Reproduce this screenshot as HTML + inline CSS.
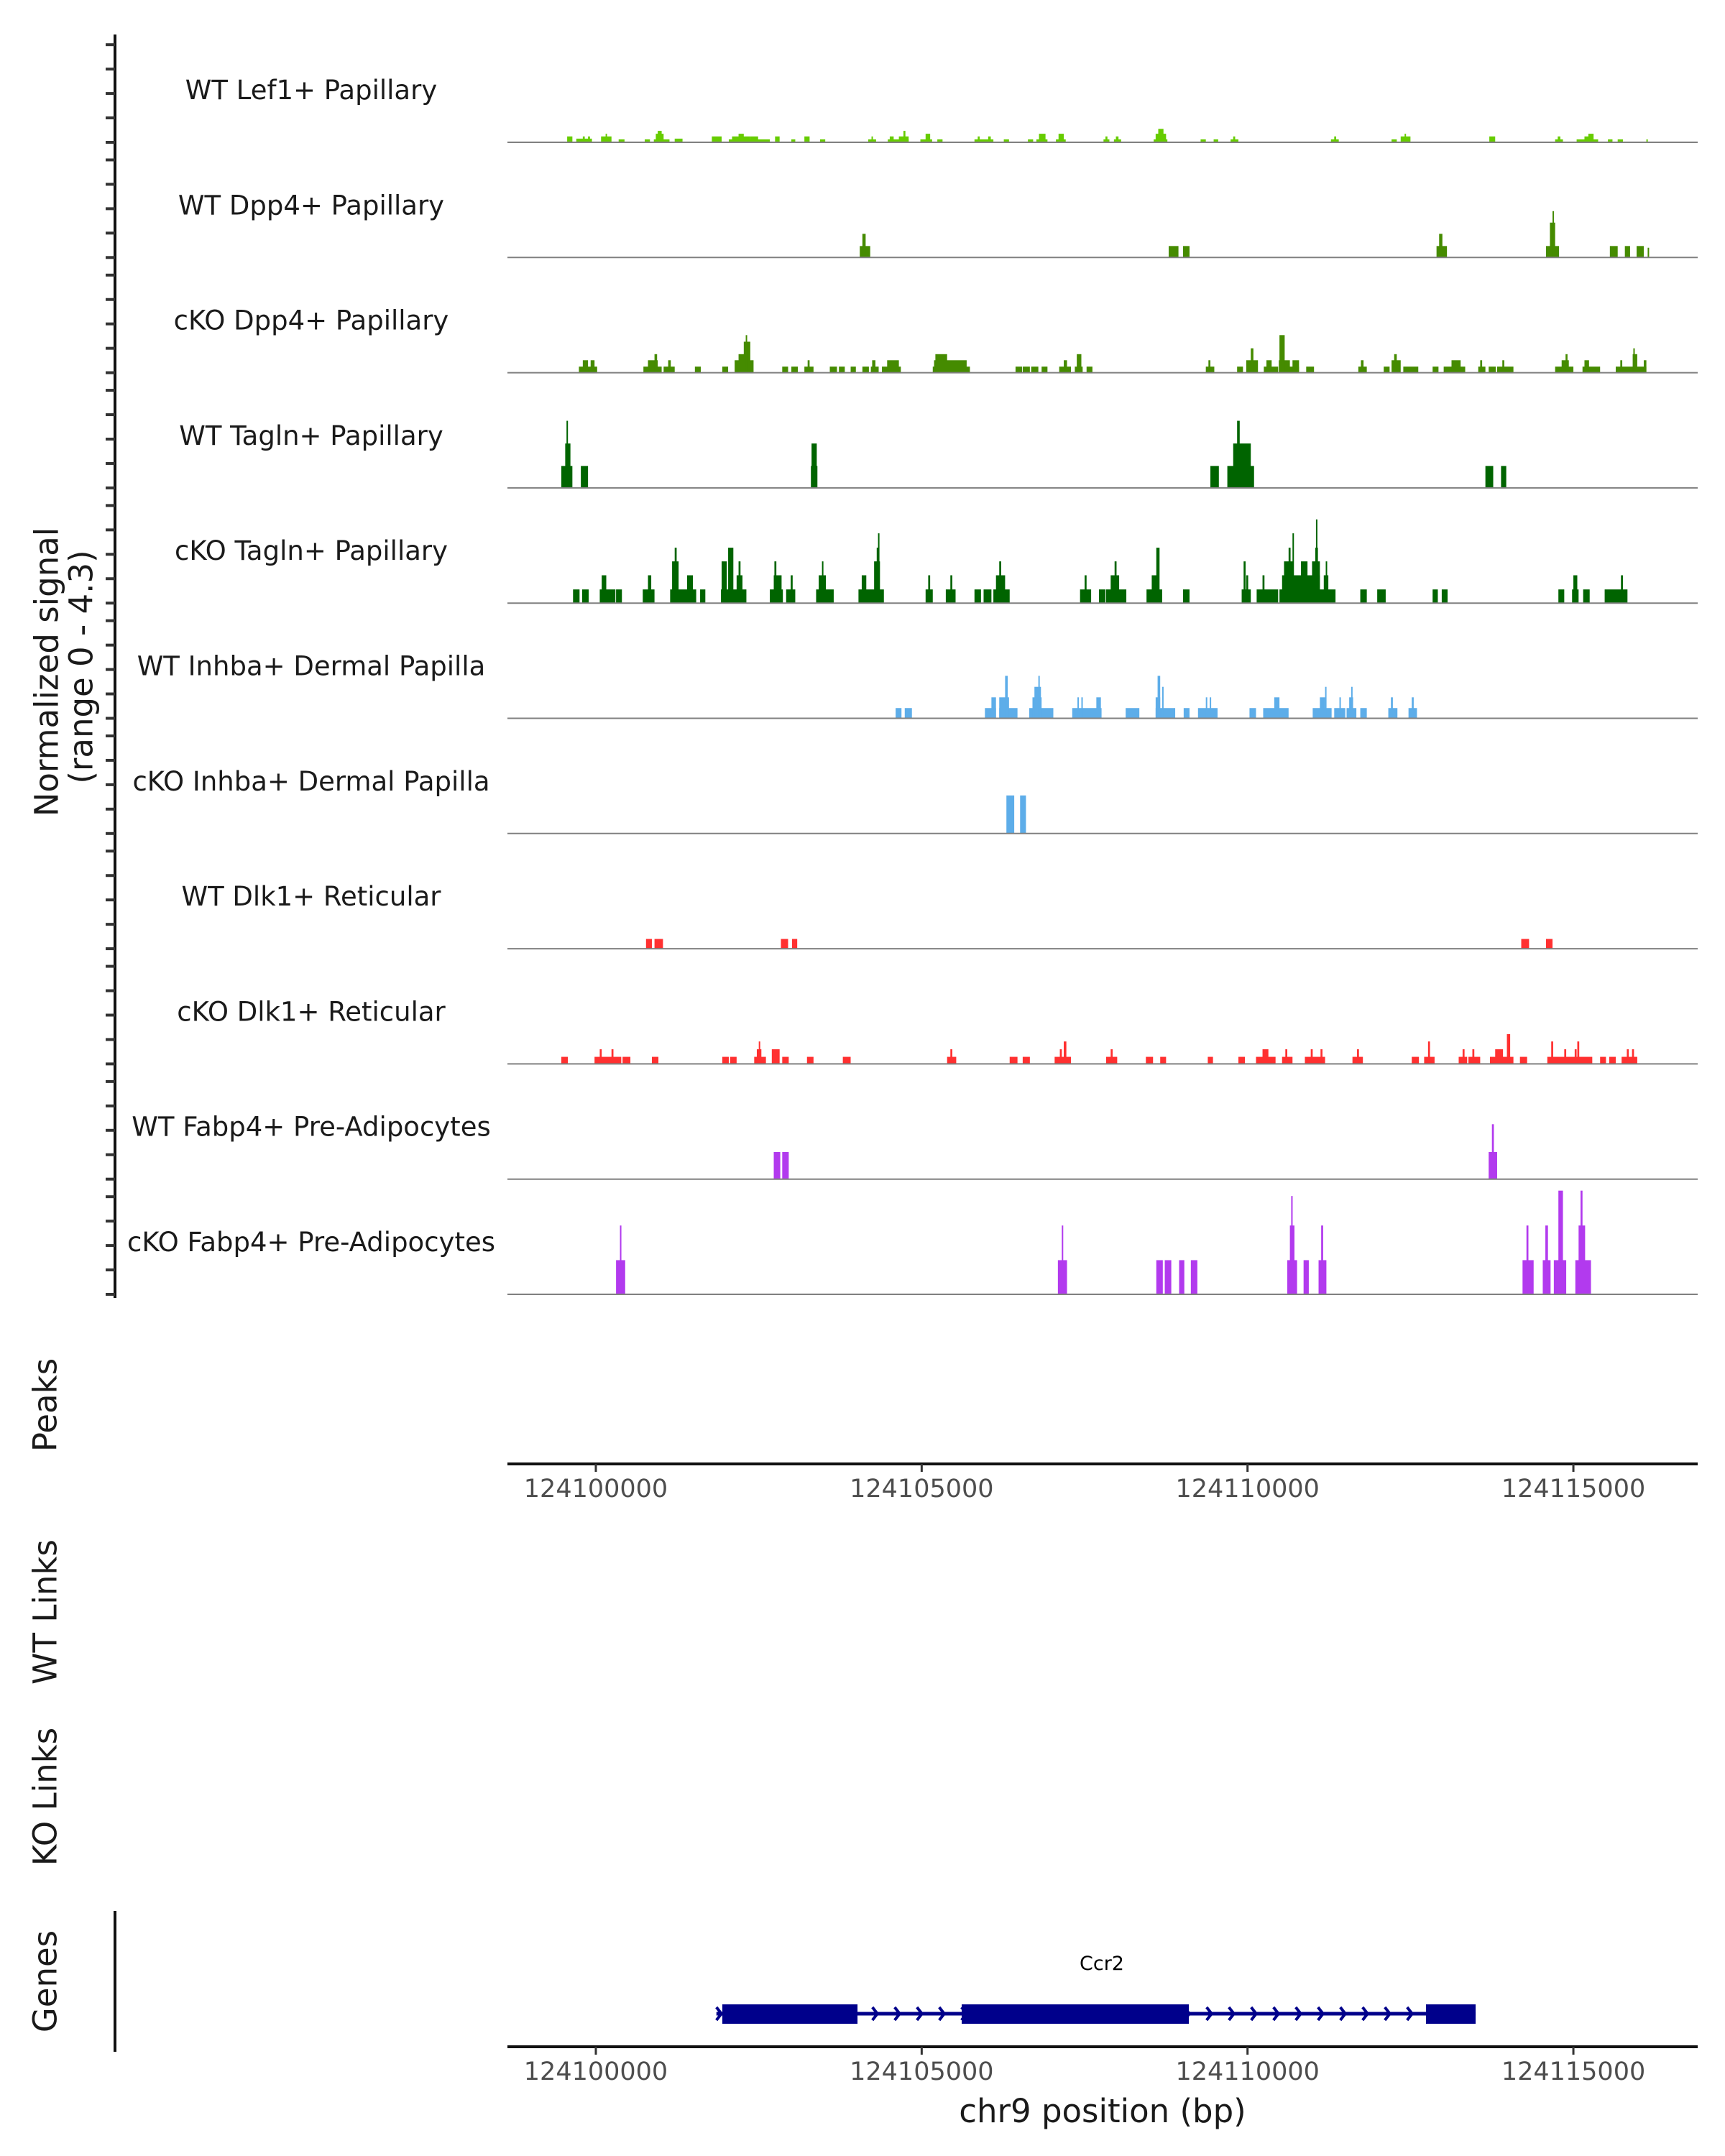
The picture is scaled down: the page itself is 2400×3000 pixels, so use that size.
<!DOCTYPE html>
<html><head><meta charset="utf-8"><style>
html,body{margin:0;padding:0;background:#fff}
svg{display:block;font-family:"DejaVu Sans","Liberation Sans",sans-serif}
</style></head><body>
<svg id="chart" width="2400" height="3000" viewBox="0 0 2400 3000">
<g id="left"></g>
<g id="tracks"></g>
<g id="axes"></g>
<g id="genes"></g>
<text x="65" y="935" font-size="45" fill="#1a1a1a" text-anchor="middle" transform="rotate(-90 65 935)" dominant-baseline="central">Normalized signal</text>
<text x="113" y="928" font-size="45" fill="#1a1a1a" text-anchor="middle" transform="rotate(-90 113 928)" dominant-baseline="central">(range 0 - 4.3)</text>
<text x="63" y="1955" font-size="45" fill="#1a1a1a" text-anchor="middle" transform="rotate(-90 63 1955)" dominant-baseline="central">Peaks</text>
<text x="63" y="2243" font-size="45" fill="#1a1a1a" text-anchor="middle" transform="rotate(-90 63 2243)" dominant-baseline="central">WT Links</text>
<text x="63" y="2500" font-size="45" fill="#1a1a1a" text-anchor="middle" transform="rotate(-90 63 2500)" dominant-baseline="central">KO Links</text>
<text x="63" y="2757" font-size="45" fill="#1a1a1a" text-anchor="middle" transform="rotate(-90 63 2757)" dominant-baseline="central">Genes</text>
<text x="1534" y="2953" font-size="45" fill="#1a1a1a" text-anchor="middle">chr9 position (bp)</text>
</svg>
<script>
// genomic offsets in kb relative to 124,100,000 ; heights in normalized signal units
const trackNames = ["WT Lef1+ Papillary","WT Dpp4+ Papillary","cKO Dpp4+ Papillary","WT Tagln+ Papillary","cKO Tagln+ Papillary","WT Inhba+ Dermal Papilla","cKO Inhba+ Dermal Papilla","WT Dlk1+ Reticular","cKO Dlk1+ Reticular","WT Fabp4+ Pre-Adipocytes","cKO Fabp4+ Pre-Adipocytes"];
const trackColors = ["#66cc00","#458b00","#458b00","#006400","#006400","#5dade9","#5dade9","#ff3030","#ff3030","#b23aee","#b23aee"];
const lef1 = [[-0.44,-0.36,.24],[-0.30,-0.06,.15],[-0.2,-0.17,.24],[-0.12,-0.09,.24],[0.08,0.24,.24],[0.15,0.17,.35],[0.35,0.44,.12],[0.75,0.83,.12],[0.89,1.13,.12],[0.92,1.04,.35],[0.95,1.01,.47],[1.21,1.33,.15],[1.78,1.93,.24],[2.04,2.67,.12],[2.09,2.37,.24],[2.19,2.27,.35],[2.37,2.49,.24],[2.75,2.82,.24],[3.0,3.06,.12],[3.2,3.28,.24],[3.44,3.52,.12],[4.18,4.30,.12],[4.23,4.25,.24],[4.48,4.80,.12],[4.51,4.57,.24],[4.65,4.80,.24],[4.72,4.75,.47],[4.98,5.16,.12],[5.06,5.13,.35],[5.24,5.32,.12],[5.81,6.10,.12],[5.86,5.89,.24],[6.02,6.06,.24],[6.26,6.34,.12],[6.63,6.71,.12],[6.76,6.93,.12],[6.80,6.90,.35],[7.06,7.21,.12],[7.10,7.18,.35],[7.79,7.88,.12],[7.82,7.85,.24],[7.95,8.06,.12],[7.98,8.02,.24],[8.56,8.77,.12],[8.59,8.75,.35],[8.63,8.71,.55],[9.28,9.36,.12],[9.48,9.55,.12],[9.74,9.86,.12],[9.78,9.81,.24],[11.28,11.40,.12],[11.33,11.36,.24],[12.21,12.29,.12],[12.35,12.50,.24],[12.41,12.43,.35],[13.71,13.80,.24],[14.72,14.84,.12],[14.76,14.80,.24],[15.05,15.38,.12],[15.17,15.29,.24],[15.23,15.31,.35],[15.53,15.60,.12],[15.68,15.76,.12],[16.12,16.14,.12]];
const wtDpp4 = [[4.05,4.21,.47],[4.09,4.14,.97],[8.79,8.94,.47],[9.01,9.11,.47],[12.9,13.06,.47],[12.94,12.99,.97],[14.58,14.78,.47],[14.64,14.72,1.43],[14.68,14.70,1.9],[15.56,15.68,.47],[15.79,15.87,.47],[15.97,16.08,.47],[16.14,16.16,.4]];
const koDpp4 = [[-0.26,0.02,.25],[-0.2,-0.12,.51],[-0.08,-0.02,.51],[0.73,1.01,.25],[0.80,0.95,.51],[0.90,0.94,.76],[1.04,1.21,.25],[1.11,1.15,.51],[1.52,1.61,.25],[1.94,2.03,.25],[2.13,2.42,.51],[2.19,2.29,.76],[2.27,2.37,1.27],[2.30,2.32,1.54],[2.86,2.95,.25],[3.0,3.1,.25],[3.2,3.34,.25],[3.25,3.28,.51],[3.59,3.70,.25],[3.73,3.82,.25],[3.91,3.99,.25],[4.09,4.19,.25],[4.22,4.34,.25],[4.24,4.29,.51],[4.39,4.68,.25],[4.47,4.65,.51],[5.17,5.74,.25],[5.19,5.69,.51],[5.21,5.39,.76],[6.44,6.54,.25],[6.55,6.66,.25],[6.68,6.79,.25],[6.84,6.93,.25],[7.11,7.29,.25],[7.18,7.23,.51],[7.35,7.47,.25],[7.38,7.45,.76],[7.53,7.62,.25],[9.36,9.49,.25],[9.40,9.43,.51],[9.84,9.93,.25],[9.98,10.16,.51],[10.05,10.09,1.0],[10.25,10.47,.25],[10.29,10.37,.51],[10.48,10.65,.51],[10.49,10.57,1.54],[10.61,10.79,.25],[10.69,10.79,.51],[10.90,11.02,.25],[11.70,11.83,.25],[11.74,11.78,.51],[12.09,12.18,.25],[12.21,12.35,.51],[12.25,12.29,.76],[12.39,12.62,.25],[12.84,12.93,.25],[13.01,13.34,.25],[13.13,13.27,.51],[13.54,13.65,.25],[13.57,13.60,.51],[13.70,13.81,.25],[13.83,14.08,.25],[13.91,13.94,.51],[14.72,15.0,.25],[14.82,14.93,.51],[14.88,14.91,.76],[15.14,15.41,.25],[15.17,15.24,.51],[15.65,16.12,.25],[15.72,15.75,.51],[15.91,15.98,.76],[15.92,15.94,1.0],[16.08,16.12,.51]];
const wtTagln = [[-0.53,-0.36,.9],[-0.47,-0.39,1.82],[-0.45,-0.43,2.75],[-0.23,-0.12,.9],[3.3,3.4,.9],[3.31,3.39,1.82],[9.43,9.56,.9],[9.69,10.1,.9],[9.78,10.05,1.82],[9.84,9.88,2.75],[13.65,13.77,.9],[13.89,13.97,.9]];
const koTagln = [[-0.35,-0.25,.56],[-0.21,-0.11,.56],[0.06,0.30,.56],[0.09,0.16,1.14],[0.31,0.40,.56],[0.72,0.90,.56],[0.80,0.85,1.14],[1.14,1.54,.56],[1.17,1.27,1.71],[1.21,1.24,2.27],[1.40,1.49,1.14],[1.60,1.68,.56],[1.92,2.31,.56],[1.93,2.01,1.71],[2.03,2.11,2.27],[2.16,2.25,1.14],[2.19,2.22,1.71],[2.67,2.87,.56],[2.73,2.85,1.14],[2.74,2.77,1.71],[2.92,3.06,.56],[2.99,3.02,1.14],[3.38,3.65,.56],[3.42,3.53,1.14],[3.47,3.49,1.71],[4.03,4.42,.56],[4.08,4.15,1.14],[4.27,4.36,1.71],[4.31,4.35,2.27],[4.33,4.35,2.86],[5.06,5.17,.56],[5.10,5.13,1.14],[5.37,5.52,.56],[5.44,5.47,1.14],[5.81,5.91,.56],[5.95,6.07,.56],[6.10,6.35,.56],[6.14,6.28,1.14],[6.19,6.22,1.71],[7.43,7.60,.56],[7.50,7.53,1.14],[7.72,7.82,.56],[7.83,8.14,.56],[7.90,8.03,1.14],[7.96,7.99,1.71],[8.45,8.69,.56],[8.53,8.63,1.14],[8.60,8.65,2.27],[9.01,9.11,.56],[9.91,10.05,.56],[9.94,9.97,1.71],[9.98,10.01,1.14],[10.14,10.47,.56],[10.23,10.26,1.14],[10.49,11.35,.56],[10.53,11.11,1.14],[10.56,10.70,1.71],[10.63,10.66,2.27],[10.69,10.71,2.86],[10.82,10.92,1.71],[10.99,11.11,1.71],[11.04,11.08,2.27],[11.05,11.07,3.43],[11.17,11.24,1.14],[11.20,11.22,1.71],[11.73,11.83,.56],[11.99,12.12,.56],[12.84,12.92,.56],[12.98,13.07,.56],[14.77,14.86,.56],[14.98,15.08,.56],[15.00,15.06,1.14],[15.15,15.25,.56],[15.48,15.83,.56],[15.73,15.76,1.14]];
const wtInhba = [[4.60,4.69,.42],[4.74,4.85,.42],[5.97,6.14,.42],[6.07,6.14,.86],[6.19,6.47,.42],[6.19,6.34,.86],[6.28,6.32,1.74],[6.65,7.02,.42],[6.70,6.84,.86],[6.73,6.83,1.29],[6.79,6.81,1.74],[7.31,7.76,.42],[7.39,7.41,.86],[7.45,7.47,.86],[7.68,7.75,.86],[8.13,8.34,.42],[8.59,8.89,.42],[8.59,8.66,.86],[8.62,8.66,1.74],[8.69,8.71,1.29],[9.02,9.11,.42],[9.24,9.54,.42],[9.36,9.38,.86],[9.42,9.44,.86],[10.03,10.13,.42],[10.24,10.63,.42],[10.41,10.49,.86],[11.0,11.29,.42],[11.11,11.19,.86],[11.19,11.21,1.29],[11.33,11.50,.42],[11.41,11.43,.86],[11.52,11.67,.42],[11.56,11.62,.86],[11.59,11.61,1.29],[11.73,11.83,.42],[12.16,12.30,.42],[12.20,12.23,.86],[12.47,12.60,.42],[12.52,12.55,.86]];
const koInhba = [[6.30,6.42,1.56],[6.51,6.60,1.56]];
const wtDlk1 = [[0.77,0.86,.4],[0.90,1.03,.4],[2.84,2.95,.4],[3.01,3.09,.4],[14.2,14.32,.4],[14.58,14.68,.4]];
const koDlk1 = [[-0.53,-0.43,.29],[-0.02,0.39,.29],[0.06,0.09,.6],[0.24,0.27,.6],[0.41,0.53,.29],[0.86,0.96,.29],[1.94,2.04,.29],[2.06,2.16,.29],[2.43,2.61,.29],[2.47,2.54,.6],[2.50,2.52,.92],[2.70,2.82,.6],[2.86,2.96,.29],[3.24,3.34,.29],[3.79,3.91,.29],[5.39,5.53,.29],[5.44,5.47,.6],[6.35,6.47,.29],[6.55,6.66,.29],[7.04,7.29,.29],[7.12,7.15,.6],[7.18,7.22,.92],[7.83,8.0,.29],[7.90,7.93,.6],[8.44,8.55,.29],[8.66,8.75,.29],[9.39,9.47,.29],[9.86,9.96,.29],[10.13,10.43,.29],[10.23,10.32,.6],[10.53,10.69,.29],[10.58,10.61,.6],[10.88,11.19,.29],[10.97,11.0,.6],[11.12,11.15,.6],[11.61,11.77,.29],[11.68,11.71,.6],[12.52,12.63,.29],[12.71,12.87,.29],[12.77,12.80,.92],[13.24,13.37,.29],[13.30,13.33,.6],[13.39,13.57,.29],[13.45,13.48,.6],[13.72,14.08,.29],[13.80,13.92,.6],[13.98,14.03,1.22],[14.18,14.29,.29],[14.60,15.29,.29],[14.66,14.69,.92],[14.86,14.89,.6],[15.02,15.05,.6],[15.06,15.09,.92],[15.41,15.50,.29],[15.55,15.65,.29],[15.74,15.98,.29],[15.82,15.85,.6],[15.90,15.93,.6]];
const wtFabp4 = [[2.73,2.83,1.11],[2.86,2.96,1.11],[13.70,13.83,1.11],[13.75,13.78,2.25]];
const koFabp4 = [[0.31,0.45,1.4],[0.37,0.39,2.82],[7.09,7.23,1.4],[7.15,7.17,2.82],[8.60,8.70,1.4],[8.73,8.83,1.4],[8.95,9.03,1.4],[9.13,9.23,1.4],[10.61,10.76,1.4],[10.65,10.72,2.82],[10.67,10.69,4.03],[10.86,10.94,1.4],[11.09,11.21,1.4],[11.13,11.16,2.82],[14.22,14.39,1.4],[14.28,14.31,2.82],[14.53,14.65,1.4],[14.57,14.61,2.82],[14.70,14.89,1.4],[14.77,14.84,4.25],[15.03,15.27,1.4],[15.08,15.18,2.82],[15.11,15.14,4.25]];
const trackData = [lef1,wtDpp4,koDpp4,wtTagln,koTagln,wtInhba,koInhba,wtDlk1,koDlk1,wtFabp4,koFabp4];
const xTicks = [124100000,124105000,124110000,124115000];
const geneExons = [[124101941,124104015],[124105614,124109099],[124112738,124113500]];
const geneSpan = [124101850,124113500];
const yMax = 4.3;

const NS="http://www.w3.org/2000/svg";
const X0=829, PXKB=90.67, LEFT=706, RIGHT=2362, BASE0=198, STEP=160.3, TRACKH=146;
function xKb(kb){return X0+kb*PXKB;}
function xBp(bp){return X0+(bp-124100000)/1000*PXKB;}
function yVal(v,i){return BASE0+i*STEP - v/yMax*TRACKH;}
function mk(tag,attrs,parent){const e=document.createElementNS(NS,tag);for(const k in attrs)e.setAttribute(k,attrs[k]);parent.appendChild(e);return e;}

const left=document.getElementById('left'), tracks=document.getElementById('tracks'), axes=document.getElementById('axes'), genes=document.getElementById('genes');
let ax=mk('line',{x1:160,y1:48,x2:160,y2:1806,stroke:'#111','stroke-width':4},left);


for(let i=0;i<trackNames.length;i++){
  for(let k=0;k<5;k++){
    const y=yVal(k,i);
    const t=mk('line',{x1:147,y1:y,x2:160,y2:y,stroke:'#333','stroke-width':4},left);
    
    
  }
  const g=mk('g',{},tracks);
  
  
  const lbl=mk('text',{x:433,y:BASE0+i*STEP-60,'font-size':37,'text-anchor':'middle',fill:'#1a1a1a'},g);
  lbl.textContent=trackNames[i];
  
  
  for(const p of trackData[i]){
    const x1=xKb(p[0]), x2=Math.max(xKb(p[1]),x1+2);
    const y=yVal(p[2],i), b=yVal(0,i);
    const r=mk('rect',{x:x1,y:y,width:x2-x1,height:b-y,fill:trackColors[i]},g);
    
    
  }
  const bl=mk('line',{x1:LEFT,y1:yVal(0,i),x2:RIGHT,y2:yVal(0,i),stroke:'#808080','stroke-width':2},g);
  
  
}
function xAxis(y,name){
  const l=mk('line',{x1:LEFT,y1:y,x2:RIGHT,y2:y,stroke:'#111','stroke-width':4},axes);
  
  
  for(const t of xTicks){
    const x=xBp(t);
    const tk=mk('line',{x1:x,y1:y,x2:x,y2:y+11,stroke:'#333','stroke-width':3},axes);
    
    
    const tl=mk('text',{x:x,y:y+46,'font-size':35,'text-anchor':'middle',fill:'#4d4d4d'},axes);
    tl.textContent=t;
    
    
  }
}
xAxis(2037,'peaks-x-axis');
xAxis(2848,'genes-x-axis');
const gl=mk('line',{x1:160,y1:2659,x2:160,y2:2855,stroke:'#111','stroke-width':4},genes);


const GY=2802;
const gline=mk('line',{x1:xBp(geneSpan[0]),y1:GY,x2:xBp(geneSpan[1]),y2:GY,stroke:'#00008b','stroke-width':5},genes);


for(let x=xBp(geneSpan[0])+4;x<xBp(geneSpan[1]);x+=31){
  const c=mk('polyline',{points:`${x-4},${GY-9} ${x+3},${GY} ${x-4},${GY+9}`,fill:'none',stroke:'#00008b','stroke-width':4},genes);
  
  
}
for(const e of geneExons){
  const r=mk('rect',{x:xBp(e[0]),y:GY-13,width:xBp(e[1])-xBp(e[0]),height:27,fill:'#00008b'},genes);
  
  
}
const gn=mk('text',{x:1533,y:2741,'font-size':27,'text-anchor':'middle',fill:'#000'},genes);
gn.textContent='Ccr2';


</script>
</body></html>
